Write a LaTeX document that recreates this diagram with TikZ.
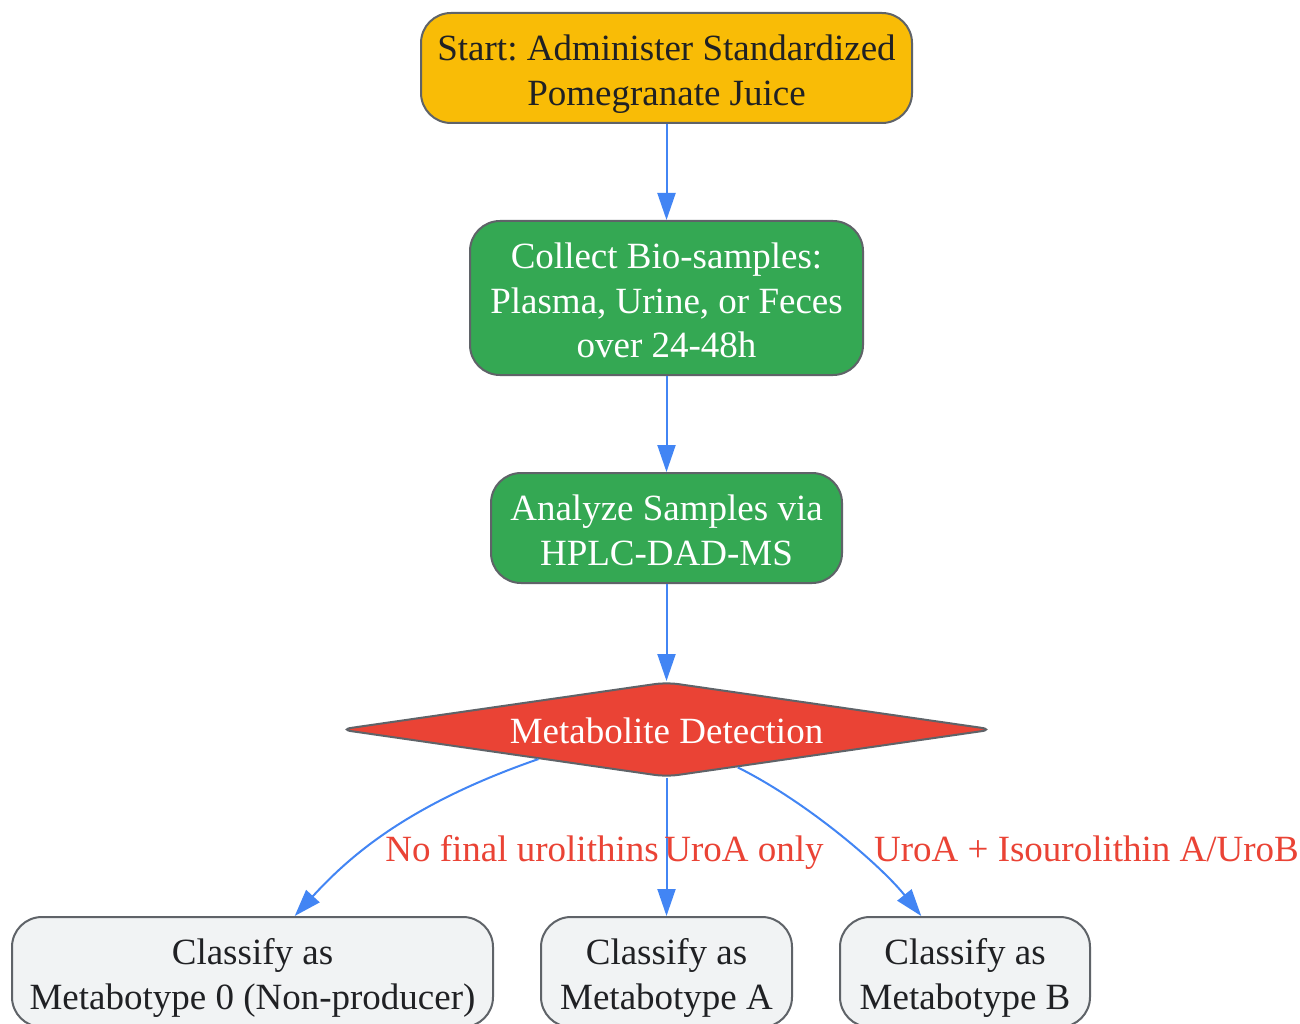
\documentclass[tikz,border=0pt]{standalone}
\usepackage{fontspec}
\setmainfont{Liberation Serif}
\usetikzlibrary{shapes.geometric,arrows.meta}
\frenchspacing
\definecolor{gold}{HTML}{F9BC06}
\definecolor{ggreen}{HTML}{34A853}
\definecolor{gred}{HTML}{EA4335}
\definecolor{gblue}{HTML}{4285F4}
\definecolor{ggrey}{HTML}{F1F3F4}
\definecolor{gborder}{HTML}{5F6368}
\definecolor{gtext}{HTML}{202124}
\newcommand{\toppad}{\rule{0pt}{30pt}}
\tikzset{
  box/.style={draw=gborder, line width=2pt, rounded corners=30pt, align=center,
    inner sep=0pt, text depth=-4pt, font=\fontsize{37}{44.5}\selectfont},
  startbox/.style={box, fill=gold, text=gtext},
  greenbox/.style={box, fill=ggreen, text=white},
  greybox/.style={box, fill=ggrey, text=gtext},
  decbox/.style={draw=gborder, line width=2pt, shape=diamond, fill=gred, text=white,
    rounded corners=12pt, inner sep=0pt, aspect=7, font=\fontsize{37}{44.5}\selectfont},
  arr/.style={draw=gblue, line width=2pt, -{Triangle[length=27pt,width=18pt]}},
  elabel/.style={text=gred, anchor=base, font=\fontsize{37}{44.5}\selectfont, inner sep=0pt}
}
\begin{document}
\begin{tikzpicture}[x=1pt,y=-1pt]
\useasboundingbox[fill=white] (0,0) rectangle (1300,1024);
\node[startbox, minimum width=491pt, minimum height=110pt] (start) at (666.5,68) {\toppad Start: Administer Standardized\\Pomegranate Juice};
\node[greenbox, minimum width=393pt, minimum height=154pt] (collect) at (666.5,298) {\toppad Collect Bio-samples:\\Plasma, Urine, or Feces\\over 24-48h};
\node[greenbox, minimum width=351pt, minimum height=110pt] (analyze) at (666.5,528) {\toppad Analyze Samples via\\HPLC-DAD-MS};
\node[decbox, minimum width=654pt, minimum height=95pt] (dec) at (666.5,729.5) {\raisebox{-14pt}[0pt][0pt]{Metabolite Detection}};
\node[greybox, minimum width=481pt, minimum height=110pt] (m0) at (252.5,972) {\toppad Classify as\\Metabotype 0 (Non-producer)};
\node[greybox, minimum width=251pt, minimum height=110pt] (ma) at (666.5,972) {\toppad Classify as\\Metabotype A};
\node[greybox, minimum width=250pt, minimum height=110pt] (mb) at (965,972) {\toppad Classify as\\Metabotype B};

\draw[arr] (start) -- (collect);
\draw[arr] (collect) -- (analyze);
\draw[arr] (analyze) -- (dec);
\draw[arr] (dec.193.6) .. controls +(-130,45) and +(55,-60) .. (m0.53.6);
\draw[arr] (dec) -- (ma);
\draw[arr] (dec.332.4) .. controls +(70,35) and +(-40,-50) .. (mb.128.3);

\node[elabel] (l0) at (522,861) {No final urolithins};
\node[elabel] (la) at (744,861) {UroA only};
\node[elabel] (lb) at (1086.5,861) {UroA + Isourolithin A/UroB};
\end{tikzpicture}
\end{document}
